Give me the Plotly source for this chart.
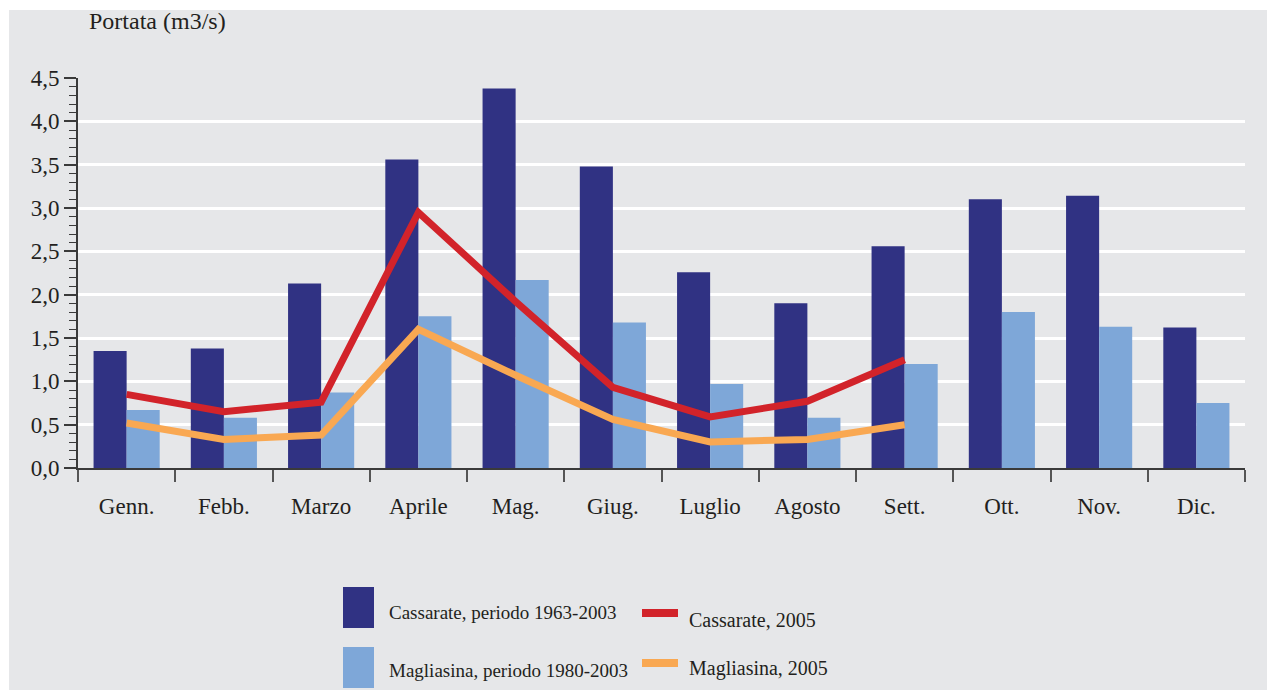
import plotly.graph_objects as go

months = ["Genn.", "Febb.", "Marzo", "Aprile", "Mag.", "Giug.", "Luglio", "Agosto", "Sett.", "Ott.", "Nov.", "Dic."]
cassarate_avg = [1.35, 1.38, 2.13, 3.56, 4.38, 3.48, 2.26, 1.90, 2.56, 3.10, 3.14, 1.62]
magliasina_avg = [0.67, 0.58, 0.87, 1.75, 2.17, 1.68, 0.97, 0.58, 1.20, 1.80, 1.63, 0.75]
months_2005 = ["Genn.", "Febb.", "Marzo", "Aprile", "Mag.", "Giug.", "Luglio", "Agosto", "Sett."]
cassarate_2005 = [0.85, 0.65, 0.76, 2.95, 1.92, 0.93, 0.59, 0.77, 1.25]
magliasina_2005 = [0.52, 0.33, 0.38, 1.60, 1.07, 0.56, 0.30, 0.33, 0.50]

names = ["Cassarate, periodo 1963-2003", "Magliasina, periodo 1980-2003", "Cassarate, 2005", "Magliasina, 2005"]

DARK = "#303283"
LIGHT = "#7ea7d8"
RED = "#d2232a"
ORANGE = "#f9a852"
BG = "#e6e7e9"
TXT = "#231f20"
FONT = "Liberation Serif"

W, H = 1267, 690
L, R, T, B = 78, 22, 78, 222
PW, PH = W - L - R, H - T - B


def px(x):
    return (x - L) / PW


def py(y):
    return (H - B - y) / PH


fig = go.Figure()
fig.add_trace(go.Bar(x=months, y=cassarate_avg, name=names[0], marker=dict(color=DARK, line=dict(width=0))))
fig.add_trace(go.Bar(x=months, y=magliasina_avg, name=names[1], marker=dict(color=LIGHT, line=dict(width=0))))
fig.add_trace(go.Scatter(x=months_2005, y=cassarate_2005, name=names[2], mode="lines",
                         line=dict(color=RED, width=7)))
fig.add_trace(go.Scatter(x=months_2005, y=magliasina_2005, name=names[3], mode="lines",
                         line=dict(color=ORANGE, width=7)))

shapes = [
    # white page strips
    dict(type="rect", xref="paper", yref="paper", x0=px(0), x1=px(W), y0=py(0), y1=py(10),
         fillcolor="white", line=dict(width=0), layer="above"),
    dict(type="rect", xref="paper", yref="paper", x0=px(0), x1=px(9), y0=py(0), y1=py(H),
         fillcolor="white", line=dict(width=0), layer="above"),
    # legend swatches
    dict(type="rect", xref="paper", yref="paper", x0=px(343), x1=px(374), y0=py(587), y1=py(628),
         fillcolor=DARK, line=dict(width=0)),
    dict(type="rect", xref="paper", yref="paper", x0=px(343), x1=px(374), y0=py(647), y1=py(688),
         fillcolor=LIGHT, line=dict(width=0)),
    dict(type="line", xref="paper", yref="paper", x0=px(642), x1=px(678), y0=py(613), y1=py(613),
         line=dict(color=RED, width=8)),
    dict(type="line", xref="paper", yref="paper", x0=px(642), x1=px(678), y0=py(663), y1=py(663),
         line=dict(color=ORANGE, width=8)),
]

annotations = [
    dict(text="Portata (m3/s)", xref="paper", yref="paper", x=px(87), y=py(21), xanchor="left",
         yanchor="middle", showarrow=False, font=dict(family=FONT, size=24, color=TXT)),
    dict(text=names[0], xref="paper", yref="paper", x=px(387), y=py(612), xanchor="left",
         yanchor="middle", showarrow=False, font=dict(family=FONT, size=19, color=TXT)),
    dict(text=names[1], xref="paper", yref="paper", x=px(387), y=py(670), xanchor="left",
         yanchor="middle", showarrow=False, font=dict(family=FONT, size=19, color=TXT)),
    dict(text=names[2], xref="paper", yref="paper", x=px(687), y=py(620), xanchor="left",
         yanchor="middle", showarrow=False, font=dict(family=FONT, size=20, color=TXT)),
    dict(text=names[3], xref="paper", yref="paper", x=px(687), y=py(668), xanchor="left",
         yanchor="middle", showarrow=False, font=dict(family=FONT, size=20, color=TXT)),
]

fig.update_layout(
    width=W, height=H,
    margin=dict(l=L, r=R, t=T, b=B),
    paper_bgcolor=BG, plot_bgcolor=BG,
    separators=", ",
    barmode="group", bargap=0.32, bargroupgap=0,
    showlegend=False,
    font=dict(family=FONT, size=23, color=TXT),
    shapes=shapes, annotations=annotations,
    xaxis=dict(
        type="category", range=[-0.5, 11.5],
        showline=True, linecolor="#3a3a3a", linewidth=2,
        ticks="outside", tickson="boundaries", ticklen=12, tickcolor="#555555", tickwidth=1.5,
        showgrid=False, ticklabelstandoff=16,
        tickfont=dict(family=FONT, size=23, color=TXT),
    ),
    yaxis=dict(
        range=[0, 4.5], dtick=0.5, tick0=0, tickformat=".1f",
        showline=True, linecolor="#3a3a3a", linewidth=2,
        ticks="outside", ticklen=12, tickcolor="#3a3a3a", tickwidth=1.5,
        showgrid=True, gridcolor="white", gridwidth=3, zeroline=False,
        minor=dict(dtick=0.1, ticks="outside", ticklen=7, tickcolor="#3a3a3a", tickwidth=1.2, showgrid=False),
        tickfont=dict(family=FONT, size=23, color=TXT),
    ),
)

fig.write_html("out.html", config={"displayModeBar": False},
               post_script="document.body.style.margin='0px'; document.body.style.overflow='hidden';")
